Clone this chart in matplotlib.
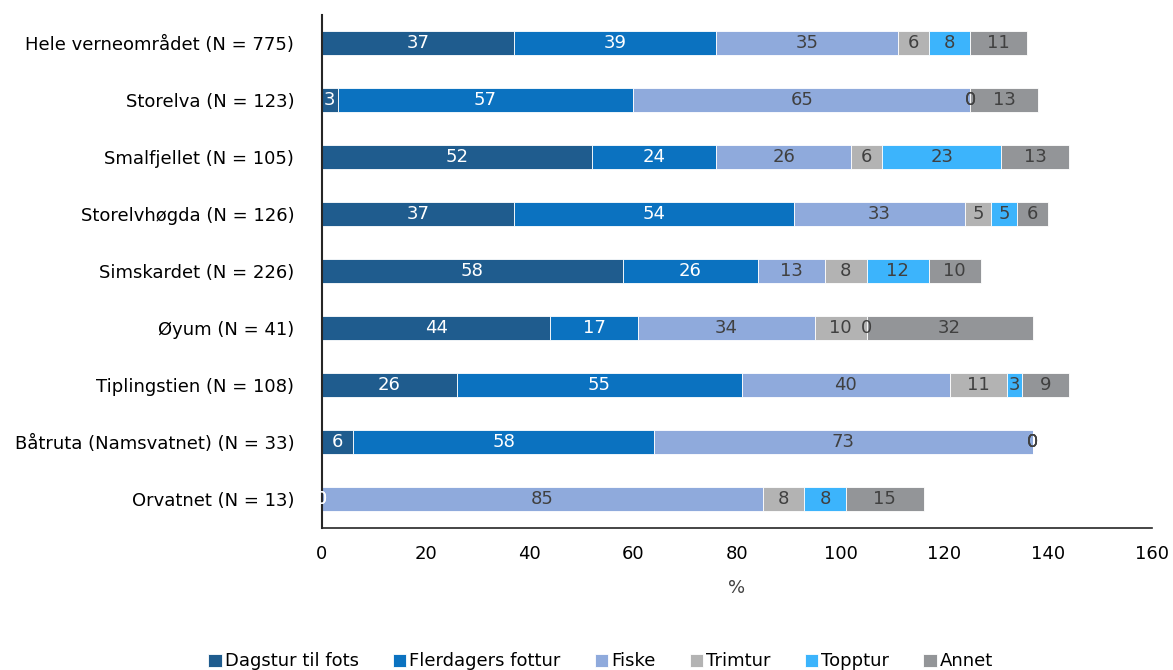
import matplotlib.pyplot as plt
import numpy as np

plt.rcParams['font.family'] = ['DejaVu Sans']

steder = ['Hele verneområdet (N = 775)', 'Storelva (N = 123)', 'Smalfjellet (N = 105)',
          'Storelvhøgda (N = 126)', 'Simskardet (N = 226)', 'Øyum (N = 41)',
          'Tiplingstien (N = 108)', 'Båtruta (Namsvatnet) (N = 33)', 'Orvatnet (N = 13)']

dagstur    = [37, 3, 52, 37, 58, 44, 26, 6, 0]
flerdagers = [39, 57, 24, 54, 26, 17, 55, 58, 0]
fiske      = [35, 65, 26, 33, 13, 34, 40, 73, 85]
trimtur    = [6, 0, 6, 5, 8, 10, 11, 0, 8]
topptur    = [8, 0, 23, 5, 12, 0, 3, 0, 8]
annet      = [11, 13, 13, 6, 10, 32, 9, 0, 15]

serier = [('Dagstur til fots', dagstur, '#1F5C8E', 'white'),
          ('Flerdagers fottur', flerdagers, '#0B72C0', 'white'),
          ('Fiske', fiske, '#8FAADC', '#404040'),
          ('Trimtur', trimtur, '#B3B3B3', '#404040'),
          ('Topptur', topptur, '#3CB4FC', '#404040'),
          ('Annet', annet, '#939598', '#404040')]

fig, ax = plt.subplots(figsize=(11.73, 6.70), dpi=100)
fig.subplots_adjust(left=0.2745, right=0.982, top=0.978, bottom=0.212)

y = np.arange(len(steder))
venstre = np.zeros(len(steder))
for navn, verdier, farge, tekstfarge in serier:
    verdier = np.array(verdier)
    bars = ax.barh(y, verdier, left=venstre, height=0.42, color=farge,
                   edgecolor='white', linewidth=0.6, label=navn)
    ax.bar_label(bars, labels=[str(v) for v in verdier], label_type='center',
                 color=tekstfarge, fontsize=13)
    venstre += verdier

ax.set_ylim(len(steder) - 0.5, -0.5)
ax.set_xlim(0, 160)
ax.set_xticks(np.arange(0, 161, 20))
ax.set_yticks(y)
ax.set_yticklabels(steder, fontsize=13, color='#000000')
ax.tick_params(axis='x', labelsize=13, length=0, pad=12)
ax.tick_params(axis='y', length=0, pad=20)
ax.set_xlabel('%', fontsize=13, color='#404040', labelpad=12)

for s in ['top', 'right']:
    ax.spines[s].set_visible(False)
ax.spines['left'].set_color('#262626')
ax.spines['left'].set_linewidth(1.5)
ax.spines['bottom'].set_color('#262626')
ax.spines['bottom'].set_linewidth(1.2)

fig.legend(loc='lower center', bbox_to_anchor=(0.512, -0.025), ncol=6, frameon=False,
           fontsize=13, handlelength=0.75, handleheight=0.75, handletextpad=0.15,
           columnspacing=1.9)

fig.savefig('out.png')
